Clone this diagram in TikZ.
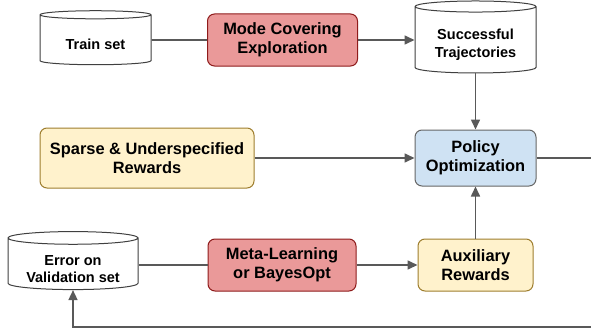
\documentclass[tikz,border=0pt]{standalone}
\usepackage{fontspec}
\setmainfont{Liberation Sans}
\usetikzlibrary{shapes.geometric,arrows.meta}
\definecolor{redf}{HTML}{EA9999}
\definecolor{redd}{HTML}{8E1B1B}
\definecolor{yelf}{HTML}{FFF2CC}
\definecolor{yeld}{HTML}{9E7E2E}
\definecolor{bluf}{HTML}{CFE2F3}
\definecolor{lgray}{HTML}{595959}
\tikzset{
  every node/.style={font=\bfseries\fontsize{16.4}{19}\selectfont,align=center,line width=1pt},
  store/.style={cylinder,shape border rotate=90,aspect=0.12,draw=black!75,fill=white,inner sep=0pt},
  storetext/.style={font=\bfseries\fontsize{14.5}{17.5}\selectfont,yshift=-5pt},
  redbox/.style={rectangle,rounded corners=7pt,draw=redd,fill=redf},
  yelbox/.style={rectangle,rounded corners=7pt,draw=yeld,fill=yelf},
  blubox/.style={rectangle,rounded corners=7pt,draw=black!60,fill=bluf},
  flow/.style={draw=lgray,line width=1.6pt},
  arr/.style={flow,-{Triangle[length=10pt,width=9pt]}}
}
\begin{document}
\begin{tikzpicture}[x=1pt,y=-1pt]
\useasboundingbox (0,0) rectangle (591,329);
\node[store,minimum width=111pt,minimum height=54pt](train)at(95.5,40){\phantom{Train set}};
\node[storetext,yshift=1pt](traint)at(train.center){Train set};
\node[redbox,minimum width=150pt,minimum height=52pt](mode)at(282.5,40){Mode Covering\\Exploration};
\node[store,minimum width=121pt,minimum height=72pt](succ)at(475.5,40){\phantom{Trajectories}};
\node[storetext](succt)at(succ.center){Successful\\Trajectories};
\node[yelbox,minimum width=214pt,minimum height=60pt](sparse)at(147,158){Sparse \& Underspecified\\Rewards};
\node[blubox,minimum width=121pt,minimum height=56pt](pol)at(475.5,158){Policy\\Optimization};
\node[store,minimum width=130pt,minimum height=58pt](err)at(73,264){\phantom{Validation set}};
\node[storetext](errt)at(err.center){Error on\\Validation set};
\node[redbox,minimum width=148pt,minimum height=52pt](meta)at(282,265){Meta-Learning\\or BayesOpt};
\node[yelbox,minimum width=115pt,minimum height=52pt](aux)at(475.5,265){Auxiliary\\Rewards};
\coordinate(back)at(640,327);
\draw[flow](train)--(mode);
\draw[arr](mode)--(succ);
\draw[arr](succ)--(pol);
\draw[arr](sparse)--(pol);
\draw[flow](err.east|-meta)--(meta);
\draw[arr](meta)--(aux);
\draw[arr](aux)--(pol);
\draw[arr](pol.east)-|(back)-|(err.south);
\end{tikzpicture}
\end{document}
